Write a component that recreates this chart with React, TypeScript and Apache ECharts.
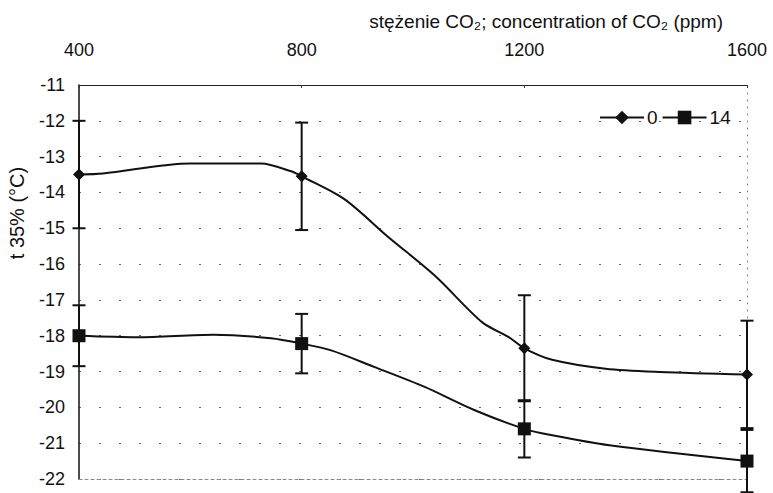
import React, { useEffect, useRef } from "react";
import * as echarts from "echarts";

// Measured points
const concentrations = [400, 800, 1200, 1600];
const mean0 = [-13.5, -13.55, -18.35, -19.08];
const err0 = [1.5, 1.5, 1.48, 1.5];
const mean14 = [-18.0, -18.22, -20.6, -21.5];
const err14 = [0.85, 0.83, 0.8, 0.87];

const curve0X = [443, 600, 727, 781, 876, 956, 1039, 1124, 1172, 1250, 1346, 1443];
const curve0Y = [-13.47, -13.19, -13.19, -13.41, -14.18, -15.25, -16.32, -17.62, -18.04, -18.67, -18.92, -19.01];
const curve14X = [505, 642, 745, 853, 930, 1021, 1111, 1250, 1353];
const curve14Y = [-18.04, -17.97, -18.07, -18.41, -18.87, -19.43, -20.08, -20.78, -21.06];

const yMin = -22;
const yMax = -11;

const FONT = "Liberation Sans, Arial, sans-serif";

function buildLine(
  mx: number[],
  my: number[],
  cx: number[],
  cy: number[],
  symbol: string,
  size: number
) {
  const pts: any[] = [];
  mx.forEach((x, i) => pts.push({ value: [x, my[i]], symbol, symbolSize: size }));
  cx.forEach((x, i) => pts.push({ value: [x, cy[i]], symbol: "none", symbolSize: 0 }));
  pts.sort((a, b) => a.value[0] - b.value[0]);
  return pts;
}

function errData(mx: number[], my: number[], e: number[]) {
  return mx.map((x, i) => [x, my[i] - e[i], my[i] + e[i]]);
}

const renderErr = (params: any, api: any) => {
  const x = api.value(0);
  const lo = api.coord([x, api.value(1)]);
  const hi = api.coord([x, api.value(2)]);
  const hw = 6.5;
  const style = { stroke: "#111", lineWidth: 2 };
  return {
    type: "group",
    children: [
      { type: "line", shape: { x1: lo[0], y1: lo[1], x2: hi[0], y2: hi[1] }, style },
      { type: "line", shape: { x1: lo[0] - hw, y1: lo[1], x2: lo[0] + hw, y2: lo[1] }, style },
      { type: "line", shape: { x1: hi[0] - hw, y1: hi[1], x2: hi[0] + hw, y2: hi[1] }, style },
    ],
  };
};

export default function App() {
  const ref = useRef<HTMLDivElement>(null);
  useEffect(() => {
    if (!ref.current) return;
    const chart = echarts.init(ref.current, undefined, { renderer: "svg" });
    const option: any = {
      animation: false,
      backgroundColor: "#fff",
      textStyle: { fontFamily: FONT, color: "#000" },
      title: {
        text: "stężenie CO₂; concentration of CO₂ (ppm)",
        right: 45,
        top: 7,
        textStyle: { fontFamily: FONT, fontSize: 19, fontWeight: "normal", color: "#111" },
      },
      grid: { left: 79, right: 26, top: 85, bottom: 14, containLabel: false },
      legend: {
        left: 594,
        top: 103,
        itemWidth: 44,
        itemHeight: 17,
        itemGap: 4,
        data: ["0", "14"],
        textStyle: { fontFamily: FONT, fontSize: 19, color: "#111", padding: [0, 0, 0, -2] },
      },
      xAxis: [
        {
          type: "value",
          position: "top",
          min: 400,
          max: 1600,
          interval: 400,
          axisLine: { show: true, lineStyle: { color: "#222", width: 1 } },
          axisTick: { show: true, inside: true, length: 3, lineStyle: { color: "#333" } },
          axisLabel: {
            fontSize: 18,
            margin: 26,
            color: "#111",
            fontFamily: FONT,
            formatter: (v: number) => String(v),
          },
          splitLine: { show: false },
        },
        {
          type: "value",
          position: "bottom",
          min: 400,
          max: 1600,
          axisLine: { show: true, onZero: false, lineStyle: { color: "#888", width: 1, type: [3, 3] } },
          axisTick: { show: false },
          axisLabel: { show: false },
          splitLine: { show: false },
        },
      ],
      yAxis: [
        {
          type: "value",
          min: yMin,
          max: yMax,
          interval: 1,
          axisLine: { show: true, onZero: false, lineStyle: { color: "#111", width: 1.5 } },
          axisTick: { show: false },
          axisLabel: { fontSize: 18, margin: 14, color: "#111", fontFamily: FONT },
          splitLine: { show: true, lineStyle: { color: "#666", width: 1, type: [2, 18] } },
        },
        {
          type: "value",
          position: "right",
          min: yMin,
          max: yMax,
          interval: 1,
          axisLine: { show: true, onZero: false, lineStyle: { color: "#777", width: 1, type: [1, 6] } },
          axisTick: { show: false },
          axisLabel: { show: false },
          splitLine: { show: false },
        },
      ],
      graphic: [
        {
          type: "text",
          x: 17,
          y: 213,
          rotation: Math.PI / 2,
          style: {
            text: "t 35% (°C)",
            fontSize: 20,
            fontFamily: FONT,
            fill: "#111",
            align: "center",
            verticalAlign: "middle",
          },
        },
      ],
      series: [
        {
          name: "0",
          type: "line",
          smooth: 0.3,
          data: buildLine(concentrations, mean0, curve0X, curve0Y, "diamond", 12),
          symbol: "diamond",
          symbolSize: 12,
          lineStyle: { color: "#111", width: 2 },
          itemStyle: { color: "#111" },
          z: 3,
        },
        {
          name: "14",
          type: "line",
          smooth: 0.3,
          data: buildLine(concentrations, mean14, curve14X, curve14Y, "rect", 13),
          symbol: "rect",
          symbolSize: 13,
          lineStyle: { color: "#111", width: 2 },
          itemStyle: { color: "#111" },
          z: 3,
        },
        {
          type: "custom",
          name: "err0",
          renderItem: renderErr,
          data: errData(concentrations, mean0, err0),
          encode: { x: 0, y: [1, 2] },
          clip: false,
          z: 2,
        },
        {
          type: "custom",
          name: "err14",
          renderItem: renderErr,
          data: errData(concentrations, mean14, err14),
          encode: { x: 0, y: [1, 2] },
          clip: false,
          z: 2,
        },
      ],
    };
    chart.setOption(option);
    return () => chart.dispose();
  }, []);
  return (
    <div
      ref={ref}
      style={{ position: "absolute", left: 0, top: 0, width: 773, height: 493 }}
    />
  );
}
